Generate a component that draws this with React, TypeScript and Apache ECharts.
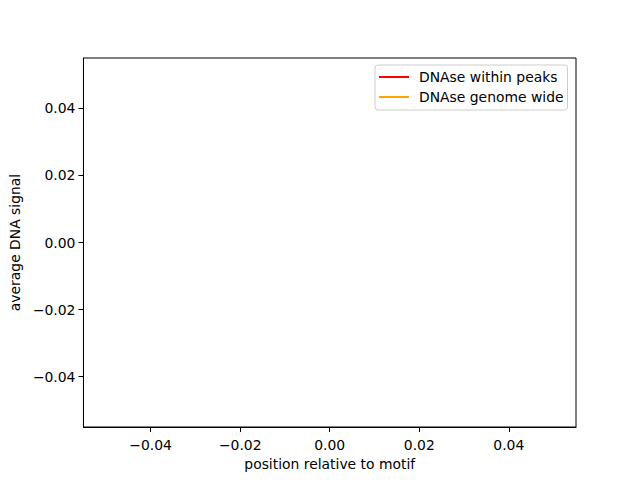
import React, { useEffect, useRef } from "react";
import * as echarts from "echarts";

const seriesNames = ["DNAse within peaks", "DNAse genome wide"];
const seriesColors = ["#ff0000", "#ffa500"];
const withinPeaks: number[][] = [];
const genomeWide: number[][] = [];
const xTicks = [-0.04, -0.02, 0, 0.02, 0.04];
const yTicks = [-0.04, -0.02, 0, 0.02, 0.04];

const fmt = (v: number) => (v < 0 ? "\u2212" : "") + Math.abs(v).toFixed(2);
const FONT = "DejaVu Sans";
const FS = 13.9;

export default function App() {
  const ref = useRef<HTMLDivElement>(null);
  useEffect(() => {
    if (!ref.current) return;
    const chart = echarts.init(ref.current, undefined, { renderer: "svg" });
    const axisCommon = {
      type: "value" as const,
      min: -0.055,
      max: 0.055,
      axisLine: { show: true, onZero: false, lineStyle: { color: "#000", width: 1 } },
      axisTick: { show: true, customValues: [] as number[], length: 5, lineStyle: { color: "#000" } },
      axisLabel: { customValues: [] as number[], formatter: fmt, color: "#000", fontFamily: FONT, fontSize: FS, margin: 8 },
      splitLine: { show: false },
      nameLocation: "middle" as const,
      nameTextStyle: { color: "#000", fontFamily: FONT, fontSize: FS },
    };
    chart.setOption({
      animation: false,
      backgroundColor: "#fff",
      grid: { left: 80, right: 64, top: 58, bottom: 53, show: true, borderColor: "#000", borderWidth: 1 },
      xAxis: {
        ...axisCommon,
        axisTick: { ...axisCommon.axisTick, customValues: xTicks },
        axisLabel: { ...axisCommon.axisLabel, customValues: xTicks, margin: 11 },
        name: "position relative to motif",
        nameGap: 28,
      },
      yAxis: {
        ...axisCommon,
        axisTick: { ...axisCommon.axisTick, customValues: yTicks },
        axisLabel: { ...axisCommon.axisLabel, customValues: yTicks },
        name: "average DNA signal",
        nameGap: 60,
      },
      legend: {
        left: 375,
        top: 65,
        orient: "vertical",
        padding: [4, 4, 5, 4],
        icon: "rect",
        itemWidth: 30,
        itemHeight: 2,
        itemGap: 4,
        borderColor: "#cccccc",
        borderWidth: 1,
        borderRadius: 3,
        backgroundColor: "#fff",
        textStyle: { color: "#000", fontFamily: FONT, fontSize: FS, padding: [0, 0, 0, 5], lineHeight: 16 },
        data: seriesNames,
      },
      series: [
        { name: seriesNames[0], type: "line", data: withinPeaks, symbol: "none", color: seriesColors[0], lineStyle: { width: 2, color: seriesColors[0] } },
        { name: seriesNames[1], type: "line", data: genomeWide, symbol: "none", color: seriesColors[1], lineStyle: { width: 2, color: seriesColors[1] } },
      ],
    });
    return () => chart.dispose();
  }, []);
  return <div ref={ref} style={{ width: 640, height: 480, position: "absolute", left: 0, top: 0 }} />;
}
